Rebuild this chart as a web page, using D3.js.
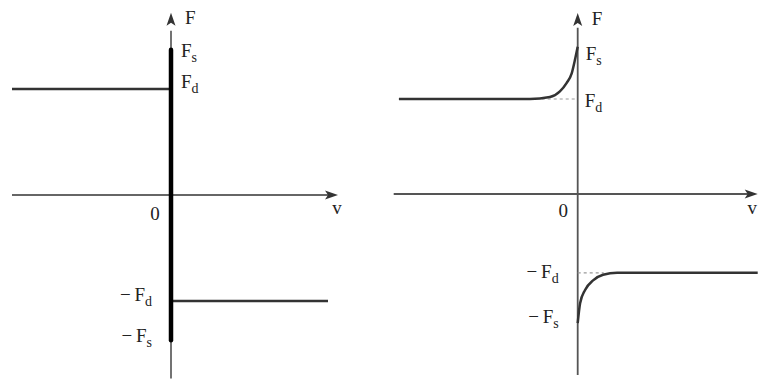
<!DOCTYPE html>
<html>
<head>
<meta charset="utf-8">
<script src="https://cdn.jsdelivr.net/npm/d3@7"></script>
<style>
  body { margin: 0; background: #fff; }
</style>
</head>
<body>
<div id="chart"></div>
<script>
// left panel: ideal Coulomb friction (v, F)
var leftNeg = [[-7.95, 1], [0, 1]];
var leftPos = [[0, -1], [7.85, -1]];
var leftJump = [[0, 1.37], [0, -1.37]];
var leftLabels = [
  {t: "F", s: "", v: 0.7, F: 1.61, pos: "r"},
  {t: "F", s: "s", v: 0.5, F: 1.30, pos: "r"},
  {t: "F", s: "d", v: 0.5, F: 1.01, pos: "r"},
  {t: "−\u2009F", s: "d", v: -0.95, F: -1.0, pos: "l"},
  {t: "−\u2009F", s: "s", v: -0.95, F: -1.39, pos: "l"}
];

// right panel: Stribeck-like curves
var rightNegV = [-8.94, -2.39, -1.39, -0.89, -0.55, -0.30, -0.14, 0];
var rightNegF = [1.0, 1.0, 1.02, 1.08, 1.17, 1.27, 1.41, 1.55];
var rightPosV = [0, 0.12, 0.37, 0.77, 1.27, 1.97, 9.0];
var rightPosF = [-1.36, -1.15, -1.01, -0.91, -0.85, -0.83, -0.83];
var rightLabels = [
  {t: "F", s: "", v: 0.7, F: 1.78, pos: "r"},
  {t: "F", s: "s", v: 0.4, F: 1.41, pos: "r"},
  {t: "F", s: "d", v: 0.35, F: 0.915, pos: "r"},
  {t: "−\u2009F", s: "d", v: -0.95, F: -0.88, pos: "l"},
  {t: "−\u2009F", s: "s", v: -0.95, F: -1.36, pos: "l"}
];

var W = 758, H = 381;
var FONT = "'Liberation Serif', 'DejaVu Serif', serif";
var svg = d3.select("#chart").append("svg")
  .attr("width", W).attr("height", H);

function arrowUp(g, x, y) {
  g.append("path").attr("d", "M" + x + "," + y + " L" + (x - 4.5) + "," + (y + 13) + " L" + x + "," + (y + 10) + " L" + (x + 4.5) + "," + (y + 13) + " Z")
    .attr("fill", "#333");
}
function arrowRight(g, x, y) {
  g.append("path").attr("d", "M" + x + "," + y + " L" + (x - 13) + "," + (y - 4.5) + " L" + (x - 10) + "," + y + " L" + (x - 13) + "," + (y + 4.5) + " Z")
    .attr("fill", "#333");
}

function label(g, x, y, d) {
  var t = g.append("text").attr("x", x(d.v)).attr("y", y(d.F))
    .attr("font-family", FONT).attr("font-size", 19).attr("fill", "#222")
    .attr("text-anchor", d.pos == "l" ? "end" : "start");
  t.append("tspan").text(d.t);
  if (d.s) t.append("tspan").attr("font-size", 14).attr("dy", 5).text(d.s);
}
function plain(g, x, y, s, anchor) {
  g.append("text").attr("x", x).attr("y", y).attr("font-family", FONT).attr("font-size", 19)
    .attr("fill", "#222").attr("text-anchor", anchor || "middle").text(s);
}

// ---- left
var xL = d3.scaleLinear().domain([0, 1]).range([171, 191]);
var yL = d3.scaleLinear().domain([0, 1]).range([195, 89]);
var gL = svg.append("g");
var line = d3.line().x(function(d){ return xL(d[0]); }).y(function(d){ return yL(d[1]); });

gL.append("line").attr("x1", xL(-7.95)).attr("x2", xL(8.1)).attr("y1", yL(0)).attr("y2", yL(0))
  .attr("stroke", "#666").attr("stroke-width", 2);
arrowRight(gL, xL(8.35), yL(0));
gL.append("line").attr("x1", xL(0)).attr("x2", xL(0)).attr("y1", yL(-1.73)).attr("y2", yL(1.55))
  .attr("stroke", "#444").attr("stroke-width", 1.5);
arrowUp(gL, xL(0), yL(1.72));

gL.append("path").attr("d", line(leftNeg)).attr("stroke", "#333").attr("stroke-width", 2.5).attr("fill", "none");
gL.append("path").attr("d", line(leftPos)).attr("stroke", "#333").attr("stroke-width", 2.5).attr("fill", "none");
gL.append("path").attr("d", line(leftJump)).attr("stroke", "#000").attr("stroke-width", 4.5)
  .attr("stroke-linecap", "round").attr("fill", "none");

leftLabels.forEach(function(d){ label(gL, xL, yL, d); });
plain(gL, xL(-0.8), 220, "0");
plain(gL, xL(8.3), 214, "v");

// ---- right
var xR = d3.scaleLinear().domain([0, 1]).range([577.7, 597.7]);
var yR = d3.scaleLinear().domain([0, 1]).range([194, 99]);
var gR = svg.append("g");
var curve = d3.line().x(function(d){ return xR(d[0]); }).y(function(d){ return yR(d[1]); })
  .curve(d3.curveMonotoneX);

gR.append("line").attr("x1", xR(-9.2)).attr("x2", xR(8.8)).attr("y1", yR(0)).attr("y2", yR(0))
  .attr("stroke", "#555").attr("stroke-width", 2);
arrowRight(gR, xR(9.0), yR(0));
gR.append("line").attr("x1", xR(0)).attr("x2", xR(0)).attr("y1", yR(-1.905)).attr("y2", yR(1.75))
  .attr("stroke", "#555").attr("stroke-width", 1.8);
arrowUp(gR, xR(0), yR(1.905));

// dashed Fd guides
gR.append("line").attr("x1", xR(-1.8)).attr("x2", xR(0)).attr("y1", yR(1)).attr("y2", yR(1))
  .attr("stroke", "#999").attr("stroke-width", 1.2).attr("stroke-dasharray", "3,3");
gR.append("line").attr("x1", xR(0)).attr("x2", xR(1.3)).attr("y1", yR(-0.83)).attr("y2", yR(-0.83))
  .attr("stroke", "#999").attr("stroke-width", 1.2).attr("stroke-dasharray", "3,3");

var negPts = rightNegV.map(function(v, i){ return [v, rightNegF[i]]; });
var posPts = rightPosV.map(function(v, i){ return [v, rightPosF[i]]; });
gR.append("path").attr("d", curve(negPts)).attr("stroke", "#333").attr("stroke-width", 2.5).attr("fill", "none");
gR.append("path").attr("d", curve(posPts)).attr("stroke", "#333").attr("stroke-width", 2.5).attr("fill", "none");

rightLabels.forEach(function(d){ label(gR, xR, yR, d); });
plain(gR, xR(-0.72), 217, "0");
// v label pushed to the right edge but kept inside
plain(gR, 757, 214, "v", "end");
</script>
</body>
</html>
